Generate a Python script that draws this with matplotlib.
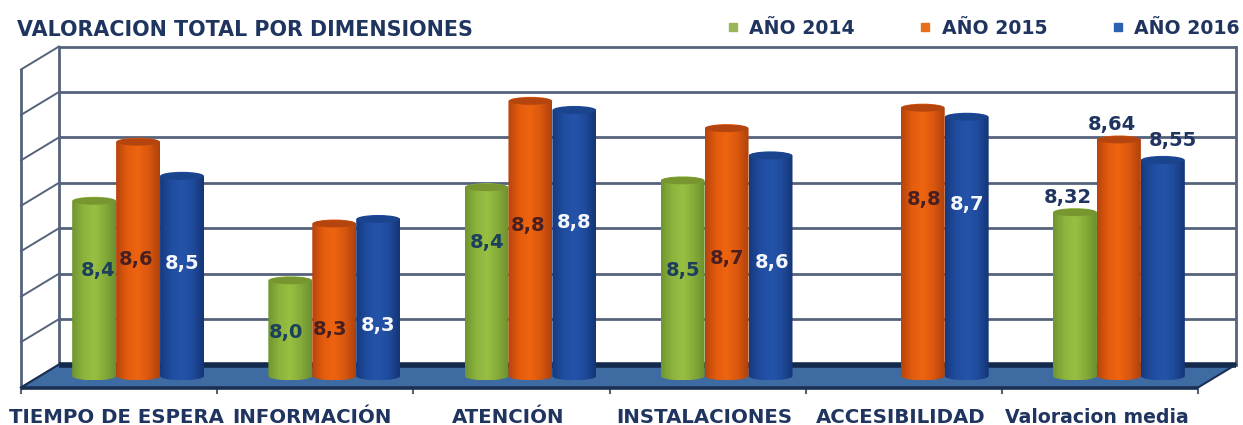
import numpy as np
import matplotlib
matplotlib.use("Agg")
import matplotlib.pyplot as plt
from matplotlib.colors import LinearSegmentedColormap
from matplotlib.lines import Line2D
from matplotlib.patches import Ellipse, PathPatch, Polygon
from matplotlib.path import Path
from matplotlib.transforms import ScaledTranslation

categories = ["TIEMPO DE ESPERA", "INFORMACIÓN", "ATENCIÓN", "INSTALACIONES", "ACCESIBILIDAD", "Valoracion media"]
series_names = ["AÑO 2014", "AÑO 2015", "AÑO 2016"]
values_2014 = [8.37, 8.02, 8.43, 8.46, None, 8.32]
values_2015 = [8.63, 8.27, 8.81, 8.69, 8.78, 8.64]
values_2016 = [8.48, 8.29, 8.77, 8.57, 8.74, 8.55]
labels_2014 = ["8,4", "8,0", "8,4", "8,5", None, "8,32"]
labels_2015 = ["8,6", "8,3", "8,8", "8,7", "8,8", "8,64"]
labels_2016 = ["8,5", "8,3", "8,8", "8,6", "8,7", "8,55"]
y_ticks = [7.6, 7.8, 8.0, 8.2, 8.4, 8.6, 8.8, 9.0]

W, H = 1243, 425
plt.rcParams["font.family"] = ["DejaVu Sans"]
NAVY = "#1f3560"
fig = plt.figure(figsize=(W / 100, H / 100), dpi=100, facecolor="white")
L, R, T, B = 40, 1217, 58, 376
ax = fig.add_axes([L / W, 1 - B / H, (R - L) / W, (B - T) / H], frameon=False)
ax.set_xlim(0, 6)
ax.set_ylim(7.6, 9.0)
ax.set_yticks([])


def off(dx, dy):
    return ax.transData + ScaledTranslation(dx / 100, -dy / 100, fig.dpi_scale_trans)


DX, DY = 19, 11.5
back, front = off(DX, -DY), off(-DX, DY)
GRID = "#55627a"
for t in y_ticks:
    ax.plot([0, 6], [t, t], color=GRID, lw=2.0, transform=back, clip_on=False, zorder=1, solid_capstyle="butt")
    p0 = front.transform((0, t))
    p1 = back.transform((0, t))
    ax.plot([p0[0], p1[0]], [p0[1], p1[1]], color=GRID, lw=1.4, transform=None, clip_on=False, zorder=1)
for xx, tr in [(0, back), (6, back), (0, front)]:
    ax.plot([xx, xx], [7.6, 9.0], color=GRID, lw=2.0, transform=tr, clip_on=False, zorder=1)

# floor
corners = np.array([front.transform((0, 7.6)), front.transform((6, 7.6)),
                    back.transform((6, 7.6)), back.transform((0, 7.6))])
ax.add_patch(Polygon(corners, closed=True, transform=None, facecolor="#3f6ba3",
                     edgecolor="none", clip_on=False, zorder=2))
ax.plot([0, 6], [7.6, 7.6], color="#142a4d", lw=4.0, transform=back, clip_on=False, zorder=3, solid_capstyle="butt")
ax.plot([0, 6], [7.6, 7.6], color="#1b2f52", lw=2.6, transform=front, clip_on=False, zorder=3, solid_capstyle="butt")
ax.plot(corners[[0, 3], 0], corners[[0, 3], 1], color="#1b2f52", lw=1.5, transform=None, clip_on=False, zorder=3)
ax.plot(corners[[1, 2], 0], corners[[1, 2], 1], color="#1b2f52", lw=1.5, transform=None, clip_on=False, zorder=3)
ftick = off(-DX, DY + 5)
for i in range(7):
    p0 = front.transform((i, 7.6))
    p1 = ftick.transform((i, 7.6))
    ax.plot([p0[0], p1[0]], [p0[1], p1[1]], color=GRID, lw=1.5, transform=None, clip_on=False, zorder=1)

# cylinders
BW = 0.224
RY = 0.019
ramps = [
    ["#6f9630", "#8cb33c", "#98c043", "#86ab39", "#6c9030"],
    ["#b8440c", "#e35c0e", "#ee6410", "#d9570e", "#ae420c"],
    ["#163a80", "#1f4c9f", "#2454aa", "#1f4b9c", "#143577"],
]
tops = ["#78962f", "#b5450f", "#1a448e"]
series = [values_2014, values_2015, values_2016]
gradient = np.linspace(0, 1, 64).reshape(1, -1)


def cylinder_path(x0, x1, v):
    k = 0.5523
    xc, hw = (x0 + x1) / 2, (x1 - x0) / 2
    base = y_ticks[0]
    verts = [(x0, v), (x0, base),
             (x0, base - k * RY), (xc - k * hw, base - RY), (xc, base - RY),
             (xc + k * hw, base - RY), (x1, base - k * RY), (x1, base),
             (x1, v),
             (x1, v + k * RY), (xc + k * hw, v + RY), (xc, v + RY),
             (xc - k * hw, v + RY), (x0, v + k * RY), (x0, v), (x0, v)]
    codes = [Path.MOVETO, Path.LINETO] + [Path.CURVE4] * 6 + [Path.LINETO] + [Path.CURVE4] * 6 + [Path.CLOSEPOLY]
    return Path(verts, codes)


for s, vals in enumerate(series):
    cmap = LinearSegmentedColormap.from_list(f"c{s}", ramps[s])
    for c, v in enumerate(vals):
        if v is None:
            continue
        xc = c + 0.5 + (s - 1) * BW
        x0, x1 = xc - BW / 2, xc + BW / 2
        z = 5 + s * 0.1 + c
        im = ax.imshow(gradient, cmap=cmap, aspect="auto", extent=(x0, x1, y_ticks[0] - RY, v + RY),
                       interpolation="bilinear", zorder=z)
        clip = PathPatch(cylinder_path(x0, x1, v), transform=ax.transData, facecolor="none", edgecolor="none")
        ax.add_patch(clip)
        clip.set_clip_on(False)
        im.set_clip_path(clip)
        im.set_clip_box(fig.bbox)
        ax.add_patch(Ellipse((xc, v), BW * 0.97, RY * 1.7, facecolor=tops[s], edgecolor="none",
                             zorder=z + 0.01, clip_on=False))
ax.set_xlim(0, 6)
ax.set_ylim(7.6, 9.0)

# data labels: (nudge x px, nudge y px from the bar middle)
label_sets = [labels_2014, labels_2015, labels_2016]
colors_in = ["#1d3f5e", "#4a1f20", "#f4f6fb"]
nudges = [
    [(4, 18), (-4, -4), (1, 39), (0, 8), None, (-7, 97)],
    [(-2, 0), (-4, -30), (-2, 13), (0, -6), (1, 42), (-7, 133)],
    [(0, 13), (0, -28), (0, 21), (2, 3), (0, 42), (10, 128)],
]
for s, vals in enumerate(series):
    for c, v in enumerate(vals):
        if v is None:
            continue
        xc = c + 0.5 + (s - 1) * BW
        nx, ny = nudges[s][c]
        col = NAVY if c == 5 else colors_in[s]
        ax.annotate(label_sets[s][c], xy=(xc, (y_ticks[0] + v) / 2), xytext=(nx * 0.72, ny * 0.72),
                    textcoords="offset points", ha="center", va="center", fontsize=14,
                    fontweight="bold", color=col, zorder=30, annotation_clip=False)

# category labels
ax.set_xticks(np.arange(6) + 0.5, categories)
ax.tick_params(axis="x", length=0, pad=23, labelsize=14.2, labelcolor=NAVY)
shift = ScaledTranslation((-DX - 3) / 100, 0, fig.dpi_scale_trans)
for lab in ax.get_xticklabels():
    lab.set_fontweight("bold")
    lab.set_transform(lab.get_transform() + shift)
ax.get_xticklabels()[-1].set_fontsize(13.6)

# title and legend
fig.text(17 / W, 1 - 30 / H, "VALORACION TOTAL POR DIMENSIONES", fontsize=14.9, fontweight="bold",
         color=NAVY, va="center", ha="left")
handles = [Line2D([], [], linestyle="none", marker="s", markersize=6, color=c, label=n)
           for c, n in zip(["#9ab55a", "#e8701c", "#2b62b0"], series_names)]
fig.legend(handles=handles, ncol=3, loc="center right", bbox_to_anchor=(1240 / W, 1 - 28 / H), frameon=False,
           prop={"size": 13.6, "weight": "bold"}, labelcolor=NAVY, handlelength=1.75, handletextpad=0.0,
           columnspacing=2.85, borderaxespad=0, borderpad=0)

fig.savefig("out.png", dpi=100, facecolor="white")
